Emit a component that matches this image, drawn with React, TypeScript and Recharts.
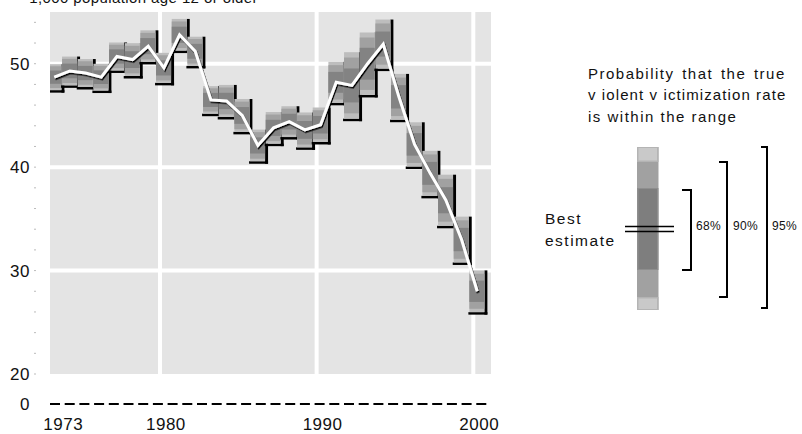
import React from 'react'
import {
  ComposedChart, Bar, Line, XAxis, YAxis, ReferenceArea, ReferenceLine,
} from 'recharts'

const YEARS = [
  1973, 1974, 1975, 1976, 1977, 1978, 1979, 1980, 1981, 1982, 1983, 1984, 1985, 1986,
  1987, 1988, 1989, 1990, 1991, 1992, 1993, 1994, 1995, 1996, 1997, 1998, 1999, 2000,
]

// best estimate, per 1,000 population age 12 or older
const RATE = [
  48.7, 49.3, 49.1, 48.7, 50.7, 50.4, 51.7, 49.6, 52.8, 51.2, 46.5, 46.4, 45.0, 42.1,
  43.8, 44.4, 43.6, 44.1, 48.2, 47.9, 50.0, 51.9, 46.8, 42.2, 39.4, 36.8, 33.0, 28.0,
]

// standard error of each estimate
const STD_ERR = [
  0.64, 0.71, 0.69, 0.66, 0.69, 0.81, 0.78, 0.74, 0.78, 0.72, 0.68, 0.79, 0.81, 0.78,
  0.78, 0.76, 0.86, 0.85, 1.01, 1.64, 1.54, 1.21, 1.13, 1.09, 1.11, 1.26, 1.13, 1.03,
]

const X_TICKS = [1973, 1980, 1990, 2000]
const Y_MINOR = [20, 22, 24, 26, 28, 30, 32, 34, 36, 38, 40, 42, 44, 46, 48, 50, 52, 54]
const GRID_X = [1979.75, 1989.75, 1999.75]
const GRID_Y = [30, 40, 50]
const AXIS_BREAK = 17.1 // broken axis: this spot is labelled 0
const X_DOMAIN = [1972.73, 2000.88]
const Y_DOMAIN = [AXIS_BREAK, 55]

const Z68 = 1
const Z90 = 1.645
const Z95 = 1.96
const LEGEND_LEVELS = ['68%', '90%', '95%']

const LIGHT = '#bdbdbd'
const MEDIUM = '#a1a1a1'
const DARK = '#838383'
const FONT = '"Liberation Sans", Arial, sans-serif'

const data = YEARS.map((year, i) => ({
  year,
  rate: RATE[i],
  range: [RATE[i] - Z95 * STD_ERR[i], RATE[i] + Z95 * STD_ERR[i]],
}))

function RangeBox(props: any) {
  const { x, y, width, height } = props
  const mid = y + height / 2
  const h90 = (height * Z90) / Z95 / 2
  const h68 = (height * Z68) / Z95 / 2
  return (
    <g>
      <rect x={x + width} y={y} width={3} height={height + 2.5} fill="#000" />
      <rect x={x - 1} y={y + height} width={width + 4} height={2.5} fill="#000" />
      <rect x={x} y={y} width={width} height={height} fill={LIGHT} />
      <rect x={x} y={mid - h90} width={width} height={h90 * 2} fill={MEDIUM} />
      <rect x={x} y={mid - h68} width={width} height={h68 * 2} fill={DARK} />
    </g>
  )
}

function XTick({ x, y, payload }: any) {
  const v = payload.value
  return (
    <text
      x={x + (v === 1973 ? 9 : 2)}
      y={y + 26}
      textAnchor="middle"
      fontSize={17}
      fill="#111"
      style={{ fontFamily: FONT, letterSpacing: '0.5px' }}
    >
      {v}
    </text>
  )
}

function YTick({ x, y, payload }: any) {
  const v = payload.value
  const label = v === AXIS_BREAK ? '0' : v % 10 === 0 ? String(v) : null
  return (
    <g>
      {v !== AXIS_BREAK && <rect x={x - 0.5} y={y - 0.5} width={1} height={1} fill="#777" />}
      {label && (
        <text
          x={x - 5}
          y={y}
          dy={6}
          textAnchor="end"
          fontSize={17}
          fill="#111"
          style={{ fontFamily: FONT, letterSpacing: '0.5px' }}
        >
          {label}
        </text>
      )}
    </g>
  )
}

function Legend() {
  const txt = { fontFamily: FONT, fill: '#111' }
  return (
    <svg
      width={802}
      height={434}
      style={{ position: 'absolute', left: 0, top: 0, pointerEvents: 'none' }}
    >
      {/* unit line of the axis title, mostly cut off at the top */}
      <text x={258} y={2.5} textAnchor="end" fontSize={15} style={{ ...txt, letterSpacing: '0.4px' }}>
        1,000 population age 12 or older
      </text>

      <g fontSize={15} style={{ ...txt, letterSpacing: '1.5px' }}>
        <text x={588} y={78.5} style={{ wordSpacing: '2px' }}>Probability that the true</text>
        <text x={588} y={100} style={{ letterSpacing: '1.1px' }}>v iolent v ictimization rate</text>
        <text x={588} y={121.5}>is within the range</text>
      </g>

      {/* sample bar */}
      <rect x={637} y={147} width={21.5} height={163} fill={MEDIUM} />
      <rect x={637} y={147} width={21.5} height={15} fill="#b4b4b4" />
      <rect x={638.5} y={148} width={18.5} height={12.5} fill="#c9c9c9" />
      <rect x={637} y={297} width={21.5} height={13} fill="#b4b4b4" />
      <rect x={638.5} y={298.5} width={18.5} height={10.5} fill="#c9c9c9" />
      <rect x={637} y={188} width={21.5} height={82} fill="#8e8e8e" />
      <rect x={638.5} y={189} width={18.5} height={80} fill="#7e7e7e" />

      {/* best estimate marker */}
      <line x1={625} x2={674} y1={226.5} y2={226.5} stroke="#000" strokeWidth={1.7} />
      <line x1={625} x2={674} y1={231.5} y2={231.5} stroke="#000" strokeWidth={1.7} />
      <g fontSize={15.5} style={{ ...txt, letterSpacing: '1.5px' }}>
        <text x={545} y={223.5}>Best</text>
        <text x={545} y={246}>estimate</text>
      </g>

      {/* brackets */}
      <path d="M682,190 H691 V270 H682" fill="none" stroke="#000" strokeWidth={2} />
      <path d="M719,162 H727 V297 H719" fill="none" stroke="#000" strokeWidth={2} />
      <path d="M761,147 H767 V308 H761" fill="none" stroke="#000" strokeWidth={2} />
      <g fontSize={12} style={{ ...txt, letterSpacing: '0.3px' }}>
        <text x={696} y={230}>{LEGEND_LEVELS[0]}</text>
        <text x={733} y={230}>{LEGEND_LEVELS[1]}</text>
        <text x={772} y={230}>{LEGEND_LEVELS[2]}</text>
      </g>
    </svg>
  )
}

export default function App() {
  return (
    <div
      style={{
        position: 'absolute', left: 0, top: 0, width: 802, height: 434,
        overflow: 'hidden', background: '#fff',
      }}
    >
      <ComposedChart
        width={802}
        height={434}
        data={data}
        margin={{ top: 12, right: 311, bottom: 0, left: 10 }}
      >
        <defs>
          <filter id="lineShadow" x="-5%" y="-10%" width="110%" height="120%">
            <feDropShadow dx="1" dy="1.5" stdDeviation="0.2" floodColor="#000" floodOpacity="1" />
          </filter>
        </defs>
        <XAxis
          dataKey="year"
          type="number"
          domain={X_DOMAIN}
          allowDataOverflow
          ticks={X_TICKS}
          interval={0}
          tickSize={0}
          tickMargin={0}
          tickLine={false}
          axisLine={{ stroke: '#000', strokeWidth: 2, strokeDasharray: '10 4.7' }}
          tick={<XTick />}
          height={30}
        />
        <YAxis
          type="number"
          domain={Y_DOMAIN}
          allowDataOverflow
          ticks={[AXIS_BREAK, ...Y_MINOR]}
          interval={0}
          tickSize={0}
          tickMargin={15}
          tickLine={false}
          axisLine={false}
          tick={<YTick />}
          width={40}
        />
        <ReferenceArea
          x1={X_DOMAIN[0]}
          x2={X_DOMAIN[1]}
          y1={20}
          y2={55}
          fill="#e4e4e4"
          fillOpacity={1}
          stroke="none"
          zIndex={-20}
        />
        {GRID_Y.map(v => (
          <ReferenceLine
            key={'gy' + v}
            segment={[{ x: X_DOMAIN[0], y: v }, { x: X_DOMAIN[1], y: v }]}
            stroke="#fff"
            strokeWidth={4}
            zIndex={-10}
          />
        ))}
        {GRID_X.map(v => (
          <ReferenceLine
            key={'gx' + v}
            segment={[{ x: v, y: 20 }, { x: v, y: 55 }]}
            stroke="#fff"
            strokeWidth={4}
            zIndex={-10}
          />
        ))}
        <Bar dataKey="range" barSize={15} shape={<RangeBox />} isAnimationActive={false} />
        <Line
          dataKey="rate"
          type="linear"
          stroke="#fff"
          strokeWidth={3}
          dot={false}
          activeDot={false}
          filter="url(#lineShadow)"
          isAnimationActive={false}
        />
      </ComposedChart>
      <Legend />
    </div>
  )
}
